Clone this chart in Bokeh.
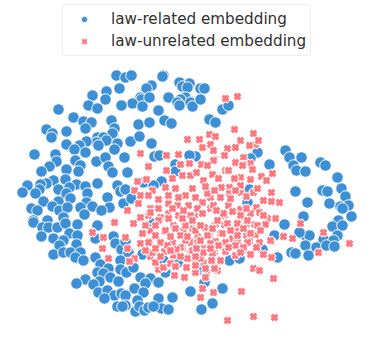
from bokeh.plotting import figure
from bokeh.models import Legend, LegendItem, Range1d
from bokeh.embed import file_html
from bokeh.resources import INLINE

law_related = [
(116,75),(125,77),(131,75),(163,75),(162,76),(179,82),(189,83),(182,86),(187,87),(200,88),(204,88),(151,85),(146,88),(119,88),(106,91),(92,95),(105,99),(140,97),(141,99),(149,97),(168,97),(132,103),(121,105),(88,105),(97,108),(142,106),(158,110),(58,109),(185,97),(180,99),(177,102),(179,105),(190,102),(192,106),(200,99),(222,109),(228,105),
(73,117),(83,121),(91,122),(111,120),(114,128),(85,128),(138,124),(149,122),(164,120),(171,123),(46,129),(52,133),(51,137),(66,131),(112,133),(97,137),(103,137),(106,140),(96,142),(98,145),(86,141),(79,145),(66,144),(74,149),(85,152),(117,143),(114,149),(130,141),(139,136),(151,143),(34,154),(55,154),(56,161),(49,166),(41,171),(75,160),(80,165),(96,161),(105,157),(108,166),(124,157),(112,172),(78,171),(66,169),(65,179),(53,180),(46,183),(27,185),(22,192),(40,184),(39,189),(35,193),(43,201),(76,184),(69,187),(58,189),(66,193),(85,186),(87,193),(97,183),(117,185),(120,191),(125,189),(107,197),(70,198),(86,202),(58,201),(31,208),(37,210),(52,206),(59,210),(67,207),(80,207),(92,206),(109,207),(101,210),(84,214),(33,220),(47,220),(63,217),(123,203),(132,197),
(154,156),(159,155),(175,164),(175,171),(161,181),(143,182),(153,185),(127,172),(125,189),(131,198),
(209,119),(215,122),(195,156),(189,155),(257,152),(250,158),(269,164),(285,150),(289,157),(301,157),(293,165),(296,170),(305,171),(320,162),(325,165),(337,177),(341,188),(322,190),(327,191),(295,191),(307,202),(345,196),(329,203),(340,206),(348,205),(342,208),(303,216),(338,220),(351,216),(249,189),(247,202),
(33,222),(42,227),(48,227),(57,227),(65,223),(77,224),(97,225),(41,236),(53,238),(69,233),(77,235),(63,240),(59,245),(76,244),(95,238),(113,236),(115,243),(121,249),(53,254),(63,252),(70,252),(80,252),(75,257),(83,260),(95,257),(100,264),(120,260),(108,268),(97,272),(103,273),(120,269),(126,272),(133,267),(110,277),(99,281),(118,281),(140,277),(150,278),(158,282),(145,283),(85,279),(76,283),(93,284),(134,288),(143,292),(98,292),(107,290),(114,295),(104,298),(121,293),(125,295),(137,300),(158,298),(172,297),(117,306),(125,305),(122,306),(135,311),(139,306),(144,310),(148,307),(161,308),(168,309),(153,306),(153,223),(163,260),(178,261),(143,253),(125,241),(128,252),(142,254),(165,272),(177,262),
(284,224),(332,226),(342,225),(337,235),(323,239),(333,240),(305,235),(309,235),(299,232),(305,245),(316,247),(326,245),(334,246),(291,252),(295,253),(308,255),(277,257),(229,260),(239,258),(262,249),(242,248),(200,269),(204,282),(190,291),(222,288),(201,309),(212,303),(274,235),(202,267),
]

law_unrelated = [
(225,98),(237,96),(234,129),(253,133),(209,134),(215,136),(199,139),(187,139),(240,140),(202,147),(210,144),(255,144),(249,145),(258,140),(227,148),(235,147),(213,150),(224,155),(214,159),(235,161),(243,157),(250,163),(243,164),(201,164),(208,165),(190,163),(225,170),(212,174),(252,169),(272,173),(261,176),(266,180),(240,177),(250,179),(203,181),(221,187),(229,187),(258,188),(271,192),(240,192),(246,196),(263,200),(271,201),(279,202),(253,192),(195,197),(210,197),(229,193),(202,202),(228,205),(240,209),(256,207),(210,208),(194,215),(224,215),(241,217),(259,212),(275,218),(267,218),
(92,232),(103,237),(125,237),(102,248),(127,248),(134,258),(108,258),(129,261),(114,222),(150,256),(164,267),(158,269),(174,275),(185,277),(186,267),(140,243),(149,241),(160,242),(172,242),(164,231),(150,231),(173,225),(183,230),(182,247),(164,251),(133,223),
(300,223),(323,232),(349,243),(318,252),(292,238),(283,236),(271,241),(259,242),(265,224),(256,233),(250,254),(263,254),(271,257),(235,255),(219,261),(212,261),(203,262),(195,262),(253,268),(259,270),(273,278),(206,273),(217,270),(214,268),(202,288),(213,292),(241,291),(200,297),(253,316),(274,317),(227,320),
(192,228),(204,227),(215,224),(224,224),(236,224),(246,224),(254,224),(197,236),(209,235),(220,233),(232,238),(237,230),(246,235),(255,234),(190,242),(205,247),(215,241),(225,242),(237,241),(249,241),(190,253),(214,252),(225,251),
(140,153),(166,155),(148,166),(166,170),(178,154),(180,164),(189,163),(146,179),(137,181),(152,190),(134,190),(140,195),(148,195),(138,203),(165,187),(175,188),(182,175),(190,175),(185,195),(168,203),(158,199),(150,208),(177,205),(188,205),(197,208),(168,213),(148,215),(158,208),(127,210),(140,217),(178,215),(190,215),(160,217),
(213,160),(207,165),(235,162),(242,165),(228,170),(203,180),(240,185),(257,188),(207,193),(220,197),(230,198),(213,205),(223,213),(240,215),(250,213),(263,215),
(150,230),(165,230),(175,228),(185,225),(195,230),(158,220),(168,218),(182,218),(192,220),(148,242),(185,240),(197,242),(152,252),(180,247),(192,250),(173,255),(203,248),(155,262),(163,267),(184,277),(187,258),(200,258),(170,263),(205,268),(195,272),(205,277),
(217,220),(227,223),(237,223),(247,220),(257,225),(222,233),(237,235),(207,235),(250,233),(260,230),(218,245),(235,245),(247,242),(270,240),(212,253),(220,260),(211,260),(203,252),
# fainter marks filling the dense centre
(145,225),(155,235),(170,236),(180,235),(200,225),(212,228),(230,230),(243,228),(155,248),(167,245),(176,249),(196,248),(210,243),(228,247),(243,247),(256,247),(160,256),(170,250),(180,256),(195,256),(210,248),(240,252),(150,212),(172,208),(183,210),(202,213),(216,210),(232,211),(246,208),(168,195),(178,197),(192,188),(205,186),(214,190),(235,190),(172,178),(196,172),(218,178),(234,178),(155,225),(187,236),(200,240),(175,266),(195,265),(142,233),(145,250),
]

LAW_RELATED_LABEL = "law-related embedding"
LAW_UNRELATED_LABEL = "law-unrelated embedding"
BLUE = "#3d8fd6"
RED = "#ff7880"

p = figure(width=374, height=338, output_backend="svg", toolbar_location=None,
           x_range=Range1d(0, 374), y_range=Range1d(338, 0),
           min_border=0, outline_line_color=None, margin=0)
p.axis.visible = False
p.grid.visible = False

rx, ry = zip(*law_unrelated)
bx, by = zip(*law_related)

# thin copy that only feeds the legend swatch; hidden below the blue and red marks
red_key = p.scatter(list(rx), list(ry), marker="x", size=6, line_color=RED, line_width=2.4)
blue = p.scatter(list(bx), list(by), marker="circle", size=11.5, fill_color=BLUE,
                 line_color="white", line_width=1)
for x, y in law_unrelated:
    p.scatter([x], [y], marker="x", size=9.6, line_color="white", line_width=5.2)
    p.scatter([x], [y], marker="x", size=7.8, line_color=RED, line_width=3.4)

extra = {"border_radius": 3} if "border_radius" in Legend.properties() else {}
legend = Legend(items=[LegendItem(label=LAW_RELATED_LABEL, renderers=[blue]),
                       LegendItem(label=LAW_UNRELATED_LABEL, renderers=[red_key])],
                location=(62, 282), orientation="vertical", padding=4, spacing=2, margin=0,
                glyph_width=34, glyph_height=16, label_height=20, label_standoff=10,
                label_text_font="DejaVu Sans", label_text_font_size="15.2px",
                label_text_color="#303030", border_line_color="#dddddd", border_line_width=1,
                background_fill_color="white", background_fill_alpha=0.8, **extra)
p.add_layout(legend, "center")

open("out.html", "w").write(file_html(p, INLINE))
